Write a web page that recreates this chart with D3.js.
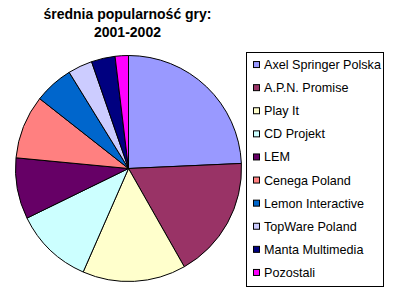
<!DOCTYPE html>
<html>
<head>
<meta charset="utf-8">
<script src="https://cdn.jsdelivr.net/npm/d3@7"></script>
<style>
  body { margin: 0; background: #fff; }
  svg { display: block; }
  text { font-family: "Liberation Sans", Arial, sans-serif; }
</style>
</head>
<body>
<script>
const titleLines = ["średnia popularność gry:", "2001-2002"];
const publishers = ["Axel Springer Polska", "A.P.N. Promise", "Play It", "CD Projekt", "LEM",
  "Cenega Poland", "Lemon Interactive", "TopWare Poland", "Manta Multimedia", "Pozostali"];
const shares = [24.3, 17.5, 14.8, 11.2, 8.75, 9.1, 5.6, 3.5, 3.4, 1.9];
const colors = ["#9999FF", "#993366", "#FFFFCC", "#CCFFFF", "#660066",
  "#FF8080", "#0066CC", "#CCCCFF", "#000080", "#FF00FF"];

const width = 394;
const height = 294;

const svg = d3.select("body")
  .append("svg")
  .attr("width", width)
  .attr("height", height);

// Title
svg.append("g")
  .selectAll("text")
  .data(titleLines)
  .enter()
  .append("text")
  .attr("x", 127.5)
  .attr("y", (d, i) => 19 + i * 17.5)
  .attr("text-anchor", "middle")
  .style("font-size", "14px")
  .style("font-weight", "bold")
  .text(d => d);

// Pie
const slices = publishers.map((name, i) => ({ name: name, value: shares[i], color: colors[i] }));

const pie = d3.pie()
  .sort(null)
  .value(d => d.value);

const arc = d3.arc()
  .innerRadius(0)
  .outerRadius(113);

svg.append("g")
  .attr("transform", "translate(128.5,168.5)")
  .selectAll("path")
  .data(pie(slices))
  .enter()
  .append("path")
  .attr("d", arc)
  .attr("fill", d => d.data.color)
  .attr("stroke", "#000")
  .attr("stroke-width", 1)
  .attr("stroke-linejoin", "round");

// Legend
svg.append("rect")
  .attr("x", 246.5)
  .attr("y", 52.5)
  .attr("width", 137)
  .attr("height", 234)
  .attr("fill", "#fff")
  .attr("stroke", "#000");

const rowScale = d3.scaleBand()
  .domain(publishers)
  .range([53, 284]);

const rows = svg.append("g")
  .selectAll("g")
  .data(slices)
  .enter()
  .append("g")
  .attr("transform", d => "translate(0," + (rowScale(d.name) + rowScale.bandwidth() / 2) + ")");

rows.append("rect")
  .attr("x", 253.5)
  .attr("y", -3)
  .attr("width", 6)
  .attr("height", 6)
  .attr("fill", d => d.color)
  .attr("stroke", "#000");

rows.append("text")
  .attr("x", 264)
  .attr("y", 0)
  .attr("dy", "0.36em")
  .style("font-size", "12.6px")
  .text(d => d.name);
</script>
</body>
</html>
